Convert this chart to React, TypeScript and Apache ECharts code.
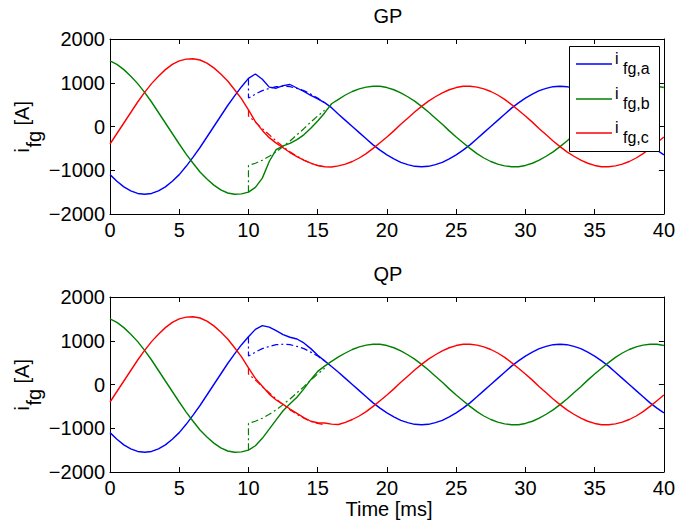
import React, { useEffect, useRef } from "react";
import * as echarts from "echarts";

// ---- data ----
const timeMs = [0,0.5,1,1.5,2,2.5,3,3.5,4,4.5,5,5.5,6,6.5,7,7.5,8,8.5,9,9.5,10,10.5,11,11.5,12,12.5,13,13.5,14,14.5,15,15.5,16,16.5,17,17.5,18,18.5,19,19.5,20,20.5,21,21.5,22,22.5,23,23.5,24,24.5,25,25.5,26,26.5,27,27.5,28,28.5,29,29.5,30,30.5,31,31.5,32,32.5,33,33.5,34,34.5,35,35.5,36,36.5,37,37.5,38,38.5,39,39.5,40];

// GP (top)
const gpA = [-1100,-1250,-1380,-1470,-1530,-1550,-1530,-1470,-1380,-1250,-1100,-910,-700,-480,-240,0,240,480,700,910,1100,
  1200,1080,900,875,935,960,880,800,710,630,545,430,
  280,140,0,-140,-280,-420,-540,-650,-740,-820,-870,-910,-920,-910,-870,-820,-740,-650,-540,-420,-280,-140,0,140,280,420,540,650,740,820,870,910,920,910,870,820,740,650,540,420,280,140,0,-140,-280,-420,-540,-650];
const gpB = [1500,1420,1300,1150,980,780,560,320,80,-160,-400,-630,-840,-1040,-1200,-1340,-1450,-1520,-1550,-1540,-1500,
  -1390,-1180,-800,-530,-445,-385,-300,-190,-40,125,310,520,
  620,720,800,860,900,920,920,890,840,770,680,580,460,330,190,50,-100,-240,-370,-500,-620,-720,-800,-860,-900,-920,-920,-890,-840,-770,-680,-580,-460,-330,-190,-50,100,240,370,500,620,720,800,860,900,920,920,890];
const gpC = [-400,-160,80,320,560,780,980,1150,1300,1420,1500,1540,1550,1520,1450,1340,1200,1040,840,630,380,
  110,-90,-255,-380,-485,-595,-690,-770,-835,-895,-920,-925,
  -900,-860,-800,-720,-620,-500,-370,-240,-100,50,190,330,460,580,680,770,840,890,920,920,900,860,800,720,620,500,370,240,100,-50,-190,-330,-460,-580,-680,-770,-840,-890,-920,-920,-900,-860,-800,-720,-620,-500,-370,-240];

// QP (bottom)
const qpA = [-1100,-1250,-1380,-1470,-1530,-1550,-1530,-1470,-1380,-1250,-1100,-910,-700,-480,-240,0,240,480,700,910,1090,
  1260,1345,1310,1230,1140,1080,1040,950,820,670,540,410,
  280,140,0,-140,-280,-420,-540,-650,-740,-820,-870,-910,-920,-910,-870,-820,-740,-650,-540,-420,-280,-140,0,140,280,420,540,650,740,820,870,910,920,910,870,820,740,650,540,420,280,140,0,-140,-280,-420,-540,-650];
const qpB = [1500,1420,1300,1150,980,780,560,320,80,-160,-400,-630,-840,-1040,-1200,-1340,-1450,-1520,-1550,-1540,-1500,
  -1400,-1230,-1020,-810,-600,-440,-290,-100,110,300,420,530,
  630,720,800,860,900,920,920,890,840,770,680,580,460,330,190,50,-100,-240,-370,-500,-620,-720,-800,-860,-900,-920,-920,-890,-840,-770,-680,-580,-460,-330,-190,-50,100,240,370,500,620,720,800,860,900,920,920,890];
const qpC = [-400,-160,80,320,560,780,980,1150,1300,1420,1500,1540,1550,1520,1450,1340,1200,1040,840,630,380,
  140,-40,-220,-355,-455,-560,-660,-755,-840,-875,-880,-905,
  -915,-865,-800,-720,-620,-500,-370,-240,-100,50,190,330,460,580,680,770,840,890,920,920,900,860,800,720,620,500,370,240,100,-50,-190,-330,-460,-580,-680,-770,-840,-890,-920,-920,-900,-860,-800,-720,-620,-500,-370,-240];

// references (dash-dot) after the step at 10 ms
const refTimeMs = [10,10,10.5,11,11.5,12,12.5,13,13.5,14,14.5,15,15.5];
const refA = [1100,650,740,820,870,910,920,910,870,820,740,650,540];
const refB = [-1500,-890,-840,-770,-680,-580,-460,-330,-190,-50,100,240,370];
const refC = [380,240,100,-50,-190,-330,-460,-580,-680,-770,-840,-890,-920];

const plotTitles = ["GP", "QP"];
const legendSubs = ["fg,a", "fg,b", "fg,c"];

const FONT = "'Liberation Sans', Arial, Helvetica, sans-serif";
const COLORS = ["#0000ff", "#008000", "#ff0000"];

const pairs = (t: number[], v: number[]) => t.map((x, i) => [x, v[i]]);

const GRID_LEFT = 110;
const GRID_W = 556;
const GRID_H = 175;
const GRID_TOPS = [39, 297];

export default function App() {
  const ref = useRef<HTMLDivElement>(null);
  useEffect(() => {
    if (!ref.current) return;
    const chart = echarts.init(ref.current, undefined, { renderer: "svg" });
    const axisLine = { show: true, onZero: false, lineStyle: { color: "#000", width: 1 } };
    const tick = { show: true, inside: true, length: 5, lineStyle: { color: "#000", width: 1 } };
    const labelStyle = { color: "#000", fontSize: 20, fontFamily: FONT };

    const xAxis: any[] = [];
    const yAxis: any[] = [];
    [0, 1].forEach((gi) => {
      xAxis.push({
        type: "value", gridIndex: gi, position: "bottom", min: 0, max: 40, interval: 5,
        axisLine, axisTick: tick, splitLine: { show: false },
        axisLabel: { ...labelStyle, margin: 6 },
      });
      xAxis.push({
        type: "value", gridIndex: gi, position: "top", min: 0, max: 40, interval: 5,
        axisLine, axisTick: tick, splitLine: { show: false }, axisLabel: { show: false },
      });
      yAxis.push({
        type: "value", gridIndex: gi, position: "left", min: -2000, max: 2000, interval: 1000,
        axisLine, axisTick: tick, splitLine: { show: false },
        axisLabel: {
          ...labelStyle, margin: 5,
          formatter: (v: number) => (v < 0 ? "\u2212" + Math.abs(v) : String(v)),
        },
      });
      yAxis.push({
        type: "value", gridIndex: gi, position: "right", min: -2000, max: 2000, interval: 1000,
        axisLine, axisTick: tick, splitLine: { show: false }, axisLabel: { show: false },
      });
    });

    const plots = [
      [gpA, gpB, gpC],
      [qpA, qpB, qpC],
    ];
    const refs = [refA, refB, refC];
    const names = ["i_fg,a", "i_fg,b", "i_fg,c"];
    const series: any[] = [];
    plots.forEach((vals, gi) => {
      refs.forEach((r, si) => {
        series.push({
          type: "line", name: names[si] + " ref", xAxisIndex: gi * 2, yAxisIndex: gi * 2,
          data: pairs(refTimeMs, r), showSymbol: false, symbol: "none",
          lineStyle: { color: COLORS[si], width: 1.2, type: [7, 3, 2, 3] },
        });
      });
      vals.forEach((v, si) => {
        series.push({
          type: "line", name: names[si], xAxisIndex: gi * 2, yAxisIndex: gi * 2,
          data: pairs(timeMs, v), showSymbol: false, symbol: "none",
          lineStyle: { color: COLORS[si], width: 1.4 },
        });
      });
    });

    const graphics: any[] = [];
    const cx = GRID_LEFT + GRID_W / 2;
    GRID_TOPS.forEach((top, gi) => {
      graphics.push({
        type: "text", x: cx, y: top - 23, z: 100,
        style: { text: plotTitles[gi], fill: "#000", fontSize: 20, fontFamily: FONT, align: "center", verticalAlign: "middle" },
      });
      const yc = top + GRID_H / 2;
      graphics.push({
        type: "text", x: 22, y: yc + 26, rotation: Math.PI / 2, z: 100,
        style: { text: "i", fill: "#000", fontSize: 20, fontFamily: FONT, align: "left", verticalAlign: "middle" },
      });
      graphics.push({
        type: "text", x: 34, y: yc + 21, rotation: Math.PI / 2, z: 100,
        style: { text: "fg", fill: "#000", fontSize: 20, fontFamily: FONT, align: "left", verticalAlign: "middle" },
      });
      graphics.push({
        type: "text", x: 22, y: yc - 1, rotation: Math.PI / 2, z: 100,
        style: { text: "[A]", fill: "#000", fontSize: 20, fontFamily: FONT, align: "left", verticalAlign: "middle" },
      });
    });
    graphics.push({
      type: "text", x: cx + 1, y: 509, z: 100,
      style: { text: "Time [ms]", fill: "#000", fontSize: 20, fontFamily: FONT, align: "center", verticalAlign: "middle" },
    });
    // legend
    graphics.push({
      type: "rect", z: 100,
      shape: { x: 569.5, y: 46.5, width: 90, height: 105 },
      style: { fill: "#fff", stroke: "#000", lineWidth: 1 },
    });
    const legendYs = [64, 99, 133];
    legendYs.forEach((ly, i) => {
      graphics.push({
        type: "line", z: 101,
        shape: { x1: 576, y1: ly, x2: 612, y2: ly },
        style: { stroke: COLORS[i], lineWidth: 1.4 },
      });
      graphics.push({
        type: "text", x: 615, y: ly - 5.5, z: 101,
        style: { text: "i", fill: "#000", fontSize: 16, fontFamily: FONT, align: "left", verticalAlign: "middle" },
      });
      graphics.push({
        type: "text", x: 623, y: ly + 4.5, z: 101,
        style: { text: legendSubs[i], fill: "#000", fontSize: 16, fontFamily: FONT, align: "left", verticalAlign: "middle" },
      });
    });

    chart.setOption({
      animation: false,
      backgroundColor: "#fff",
      grid: GRID_TOPS.map((t) => ({ left: GRID_LEFT, top: t, width: GRID_W, height: GRID_H, containLabel: false })),
      xAxis,
      yAxis,
      series,
      graphic: { elements: graphics },
    });
    return () => chart.dispose();
  }, []);
  return <div ref={ref} style={{ position: "absolute", left: 0, top: 0, width: 678, height: 526 }} />;
}
